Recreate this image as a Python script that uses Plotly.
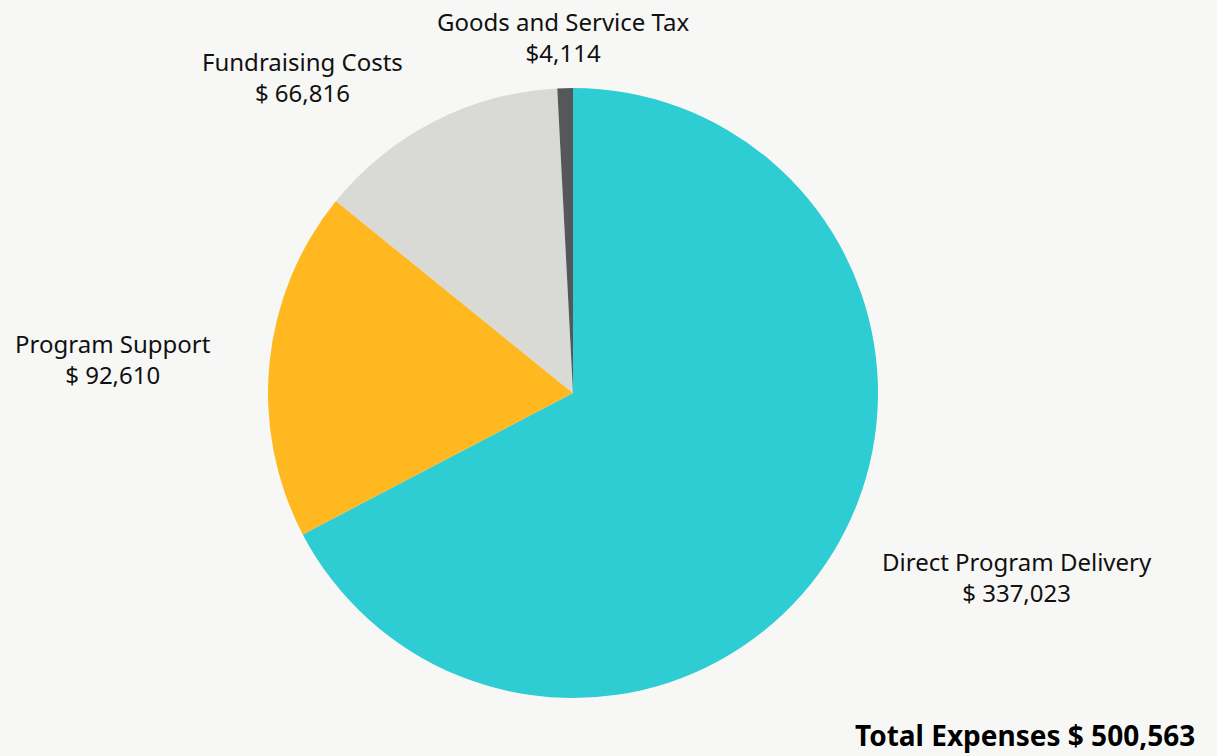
import plotly.graph_objects as go

categories = ["Direct Program Delivery", "Program Support", "Fundraising Costs", "Goods and Service Tax"]
values = [337023, 92610, 66816, 4114]
value_labels = ["$ 337,023", "$ 92,610", "$ 66,816", "$4,114"]
colors = ["#2ECCD3", "#FFB81F", "#D9D9D6", "#54585A"]
total_label = "Total Expenses $ 500,563"

W, H = 1217, 756
BG = "#F7F8F5"
fig = go.Figure(go.Pie(
    labels=categories,
    values=values,
    sort=False,
    direction="clockwise",
    rotation=0,
    marker=dict(colors=colors, line=dict(width=0)),
    textinfo="none",
    hoverinfo="label+value",
    showlegend=False,
    domain=dict(x=[268 / W, 878 / W], y=[(H - 698) / H, (H - 88) / H]),
))

# label anchor positions (pixel centres of the two-line labels)
label_pos = [(1017, 577), (113, 359), (302, 77), (563, 37)]
font = dict(family="Noto Sans", size=24, color="#111111")
for cat, vl, (px, py) in zip(categories, value_labels, label_pos):
    fig.add_annotation(
        x=px / W, y=1 - py / H, xref="paper", yref="paper",
        text=f"{cat}<br>{vl}", showarrow=False, font=font,
        xanchor="center", yanchor="middle", align="center",
    )

fig.add_annotation(
    x=1197 / W, y=0, xref="paper", yref="paper",
    text=f"<b>{total_label}</b>", showarrow=False,
    font=dict(family="Noto Sans", size=28, color="#000000"),
    xanchor="right", yanchor="bottom",
)

fig.update_layout(
    width=W, height=H, autosize=False,
    margin=dict(l=0, r=0, t=0, b=0),
    paper_bgcolor=BG, plot_bgcolor=BG,
)
fig.write_html(
    "out.html",
    config={"displayModeBar": False},
    post_script=f"document.body.style.margin='0';document.body.style.background='{BG}';",
)
